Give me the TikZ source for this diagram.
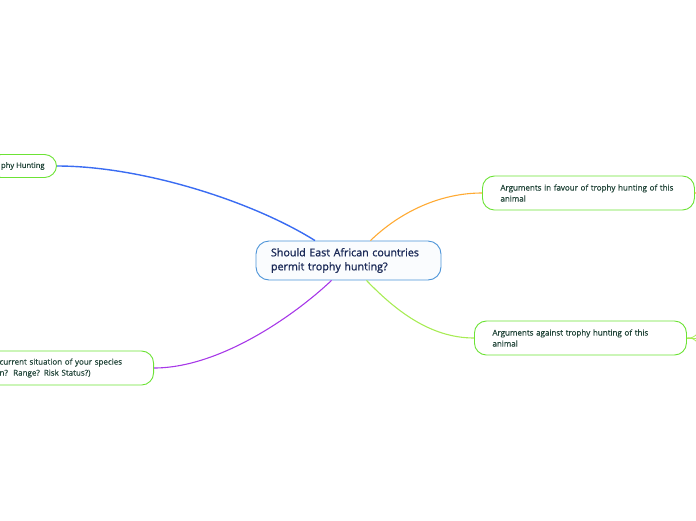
\documentclass[tikz,border=0pt]{standalone}
\usepackage{fontspec}
\setmainfont{Open Sans}
\usepackage{xcolor}
\definecolor{hubline}{HTML}{4C94D8}
\definecolor{hubtext}{HTML}{1B2A58}
\definecolor{leafline}{HTML}{6CE335}
\definecolor{leaftext}{HTML}{23463A}
\definecolor{wireblue}{HTML}{3A6CF2}
\definecolor{wireorange}{HTML}{FFAA33}
\definecolor{wiregreen}{HTML}{A8EC55}
\definecolor{wirepurple}{HTML}{A738E8}
\usetikzlibrary{positioning}

\begin{document}
\begin{tikzpicture}[
      x=1pt, y=-1pt,
      %% Central question
      hub/.style={rectangle, rounded corners=13pt, draw=hubline, line width=0.9pt,
                  fill=hubline!3, text=hubtext, text width=155pt, align=left,
                  font=\fontsize{10.7}{14}\selectfont\addfontfeatures{FakeBold=1.2},
                  inner xsep=15pt, minimum height=39pt},
      %% Topic boxes round the hub
      leaf/.style={rectangle, rounded corners=12pt, draw=leafline, line width=0.9pt,
                   fill=white, text=leaftext, align=left,
                   font=\fontsize{8}{11}\selectfont\addfontfeatures{FakeBold=0.5},
                   inner xsep=18pt, minimum height=34pt},
      wire/.style={line width=1.1pt},
    ]
    \useasboundingbox (0,0) rectangle (696,520);
    \clip (0,0) rectangle (696,520);

    %% ── Nodes ───────────────────────────────────────────────────────────────
    \node[hub] (hunt) at (348.5,260.5)
      {Should East African countries\\permit trophy hunting?};

    \node[leaf, anchor=west, text width=176pt] (favour) at (482,193)
      {Arguments in favour of trophy hunting of this\\animal};

    \node[leaf, anchor=west, text width=176pt] (against) at (474,338)
      {Arguments against trophy hunting of this\\animal};

    \node[leaf, anchor=east, text width=136pt] (status) at (154,368)
      {current situation of your species\\n?~~Range? Risk Status?)};

    \node[leaf, anchor=east, inner xsep=12pt, minimum height=23pt,
          font=\fontsize{7.6}{11}\selectfont\addfontfeatures{FakeBold=0.5}] (intro) at (57,166)
      {phy Hunting};

    %% free ends of the branches that run off the page
    \coordinate (favnext)  at (720,180);
    \coordinate (agup)     at (712,318);
    \coordinate (agmid)    at (712,338);
    \coordinate (agdown)   at (712,358);

    %% ── Connectors ──────────────────────────────────────────────────────────
    \draw[wire, wireblue, line width=1.4pt] ([xshift=-33.5pt]hunt.north)
      .. controls (250,200) and (140,166) .. (intro.east);

    \draw[wire, wireorange] ([xshift=22pt]hunt.north)
      .. controls (400,212) and (440,193) .. (favour.west);

    \draw[wire, wiregreen] ([xshift=18pt]hunt.south)
      .. controls (395,310) and (430,338) .. (against.west);

    \draw[wire, wirepurple] ([xshift=-17pt]hunt.south)
      .. controls (295,315) and (220,368) .. (status.east);

    %% stubs leaving the page on the right
    \draw[wire, wireorange] (favour.east) .. controls (705,193) .. (favnext);
    \draw[wire, wiregreen, line width=0.8pt] (against.east) .. controls (694,338) .. (agup);
    \draw[wire, wiregreen, line width=0.8pt] (against.east) -- (agmid);
    \draw[wire, wiregreen, line width=0.8pt] (against.east) .. controls (694,338) .. (agdown);
  \end{tikzpicture}
\end{document}
